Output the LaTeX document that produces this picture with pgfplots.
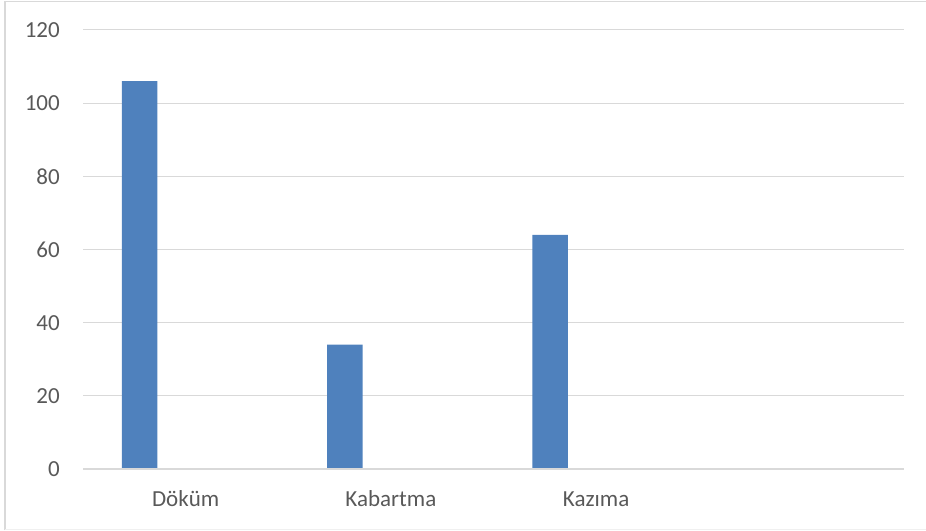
\documentclass[border=0pt]{standalone}
\usepackage{fontspec}
\setmainfont{Carlito}
\usepackage{pgfplots}
\pgfplotsset{compat=1.18}
\definecolor{barblue}{HTML}{4F81BD}
\definecolor{gridgray}{HTML}{D9D9D9}
\definecolor{labgray}{HTML}{595959}
\begin{document}
\begin{tikzpicture}[x=1pt,y=1pt]
\path[use as bounding box] (0,0) rectangle (926,530);
\draw[gridgray, line width=1.2pt] (5,0) -- (5,528.5) -- (926,528.5);
\draw[gridgray!40, line width=1pt] (5,1) -- (926,1);
\begin{axis}[
  at={(83pt,61pt)}, anchor=south west,
  scale only axis, width=821pt, height=439pt,
  xmin=-0.5, xmax=3.5, ymin=0, ymax=120,
  ytick={0,20,...,120},
  xtick={0,1,2},
  xticklabels={Döküm,Kabartma,Kazıma},
  axis line style={draw=none},
  axis x line*=bottom,
  major tick length=0pt,
  ymajorgrids, grid style={gridgray, line width=1pt},
  font=\fontsize{23}{27}\selectfont,
  /pgf/number format/assume math mode=true,
  yticklabel style={anchor=east, inner sep=0pt, xshift=-23pt, text=labgray, font=\fontsize{23}{27}\selectfont},
  xticklabel style={anchor=base, inner sep=0pt, yshift=-37.7pt, text=labgray, font=\fontsize{23}{27}\selectfont},
  clip=false,
]
\addplot[ybar, fill=barblue, draw=none, bar width=35.5pt, bar shift=-46pt]
  coordinates {(0,106) (1,34) (2,64)};
\draw[gridgray, line width=1.2pt] (axis cs:-0.5,0) -- (axis cs:3.5,0);
\end{axis}
\end{tikzpicture}
\end{document}
